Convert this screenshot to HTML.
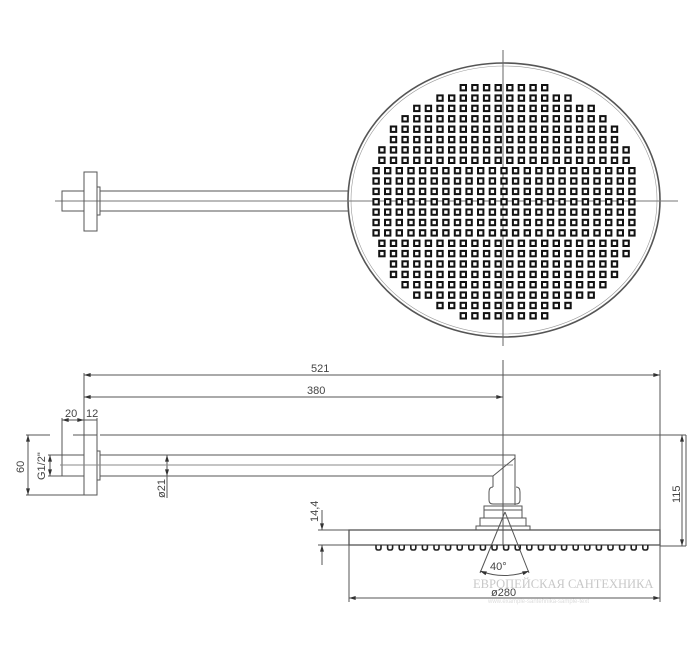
<!DOCTYPE html>
<html><head><meta charset="utf-8"><style>
html,body{margin:0;padding:0;background:#fff;}
svg{display:block;}
text{font-family:"Liberation Sans",sans-serif;fill:#444;}
text.wm{font-family:"Liberation Serif",serif;fill:#c8c8c8;}
</style></head><body>
<svg id="s" width="700" height="651" viewBox="0 0 700 651" xmlns="http://www.w3.org/2000/svg">
<defs>
<marker id="a" viewBox="0 0 10 6" refX="10" refY="3" markerWidth="8" markerHeight="4" orient="auto-start-reverse"><path d="M0,0 L10,3 L0,6 z" fill="#333"/></marker>
</defs>
<g stroke="#555" fill="none" stroke-width="1">
<ellipse cx="504" cy="200" rx="156" ry="137" stroke-width="1.6"/>
<ellipse cx="504" cy="200" rx="153" ry="134" stroke="#999" stroke-width="0.6"/>
<line x1="503" y1="50" x2="503" y2="346" stroke="#666"/>
<line x1="55" y1="201" x2="678" y2="201" stroke="#777"/>
<rect x="62" y="191" width="22" height="20"/>
<rect x="84" y="172" width="13" height="59"/>
<rect x="97" y="187" width="3" height="28"/>
<line x1="100" y1="191" x2="349" y2="191"/>
<line x1="100" y1="211" x2="349" y2="211"/>
</g>
<g id="sq" stroke="#111" stroke-width="2" fill="#fff"></g>
<g stroke="#555" fill="none" stroke-width="1">
<line x1="84" y1="373" x2="84" y2="495"/>
<line x1="84" y1="375" x2="660" y2="375" marker-start="url(#a)" marker-end="url(#a)"/>
<line x1="84" y1="397" x2="503" y2="397" marker-start="url(#a)" marker-end="url(#a)"/>
<line x1="660" y1="370" x2="660" y2="545"/>
<line x1="503" y1="360" x2="503" y2="545"/>
<line x1="62" y1="418" x2="62" y2="476"/>
<line x1="97" y1="418" x2="97" y2="435"/>
<line x1="62" y1="420" x2="84" y2="420" marker-start="url(#a)" marker-end="url(#a)"/>
<line x1="84" y1="420" x2="97" y2="420"/>
<line x1="26" y1="435" x2="50" y2="435"/>
<line x1="73" y1="435" x2="84" y2="435"/>
<line x1="100" y1="435" x2="686" y2="435"/>
<line x1="26" y1="495" x2="84" y2="495"/>
<line x1="28" y1="435" x2="28" y2="495" marker-start="url(#a)" marker-end="url(#a)"/>
<line x1="48" y1="455" x2="62" y2="455"/>
<line x1="48" y1="476" x2="62" y2="476"/>
<line x1="50" y1="455" x2="50" y2="476" marker-start="url(#a)" marker-end="url(#a)"/>
<line x1="167" y1="455" x2="167" y2="498"/>
<line x1="167" y1="458" x2="167" y2="455" marker-end="url(#a)"/>
<line x1="167" y1="472" x2="167" y2="476" marker-end="url(#a)"/>
<rect x="62" y="455" width="22" height="21"/>
<rect x="84" y="435" width="13" height="60"/>
<rect x="97" y="451" width="3" height="29"/>
<line x1="60" y1="465" x2="513" y2="465" stroke="#888"/>
<path d="M100,455 H515 V505 M100,476 H493 V487 M515,458 L493,476"/>
<path d="M493,487 Q489,487 489,492 V500 Q489,504 493,504 H516 Q520,504 520,500 V492 Q520,487 516,487"/>
<rect x="484" y="506" width="38" height="12"/>
<line x1="484" y1="510" x2="522" y2="510"/>
<rect x="480" y="518" width="46" height="8"/>
<rect x="476" y="526" width="54" height="4"/>
<rect x="349" y="530" width="311" height="15" stroke-width="1.3"/>
<line x1="686" y1="435" x2="686" y2="546"/>
<line x1="682" y1="435" x2="682" y2="546" marker-start="url(#a)" marker-end="url(#a)"/>
<line x1="660" y1="546" x2="686" y2="546"/>
<line x1="318" y1="530" x2="349" y2="530"/>
<line x1="318" y1="545" x2="349" y2="545"/>
<line x1="322" y1="510" x2="322" y2="530" marker-end="url(#a)"/>
<line x1="322" y1="565" x2="322" y2="545" marker-end="url(#a)"/>
<line x1="349" y1="545" x2="349" y2="602"/>
<line x1="349" y1="598" x2="660" y2="598" marker-start="url(#a)" marker-end="url(#a)"/>
<line x1="660" y1="545" x2="660" y2="602"/>
<line x1="505" y1="512" x2="480" y2="573"/>
<line x1="505" y1="512" x2="529" y2="573"/>
<path d="M480,571 Q504,580 529,571" marker-start="url(#a)" marker-end="url(#a)"/>
</g>
<g id="nz" fill="none" stroke="#222" stroke-width="1.6"></g>
<g font-size="11">
<text x="311" y="372">521</text>
<text x="307" y="394">380</text>
<text x="65" y="417">20</text>
<text x="86" y="417">12</text>
<text x="490" y="570">40°</text>
<text x="491" y="596">ø280</text>
<text transform="translate(24,473) rotate(-90)">60</text>
<text transform="translate(45,480) rotate(-90)">G1/2"</text>
<text transform="translate(165,498) rotate(-90)">ø21</text>
<text transform="translate(318,522) rotate(-90)">14,4</text>
<text transform="translate(680,503) rotate(-90)">115</text>
</g>
<text class="wm" x="473" y="588" font-size="12.5">ЕВРОПЕЙСКАЯ САНТЕХНИКА</text>
<text x="488" y="603" font-size="6" style="fill:#ddd">www.example-santehnika-sample-text</text>
</svg>
<script>
var g=document.getElementById('sq'),ns='http://www.w3.org/2000/svg';
var counts=[8,12,16,18,20,20,22,22,23,23,23,23,23,23,23,22,22,20,20,18,16,12,8];
for(var j=0;j<23;j++){var n=counts[j];for(var k=0;k<n;k++){var x=504+(k-(n-1)/2)*11.63,y=87.7+j*10.37;
var r=document.createElementNS(ns,'rect');r.setAttribute('x',(x-2.7).toFixed(1));r.setAttribute('y',(y-2.7).toFixed(1));r.setAttribute('width','5.4');r.setAttribute('height','5.4');g.appendChild(r);}}
var z=document.getElementById('nz');
for(var i=0;i<24;i++){var x=376+i*11.6;var p=document.createElementNS(ns,'path');p.setAttribute('d','M'+x+',545 V548 Q'+x+',550 '+(x+2)+',550 H'+(x+3)+' Q'+(x+5)+',550 '+(x+5)+',548 V545');z.appendChild(p);}
</script>
</body></html>
